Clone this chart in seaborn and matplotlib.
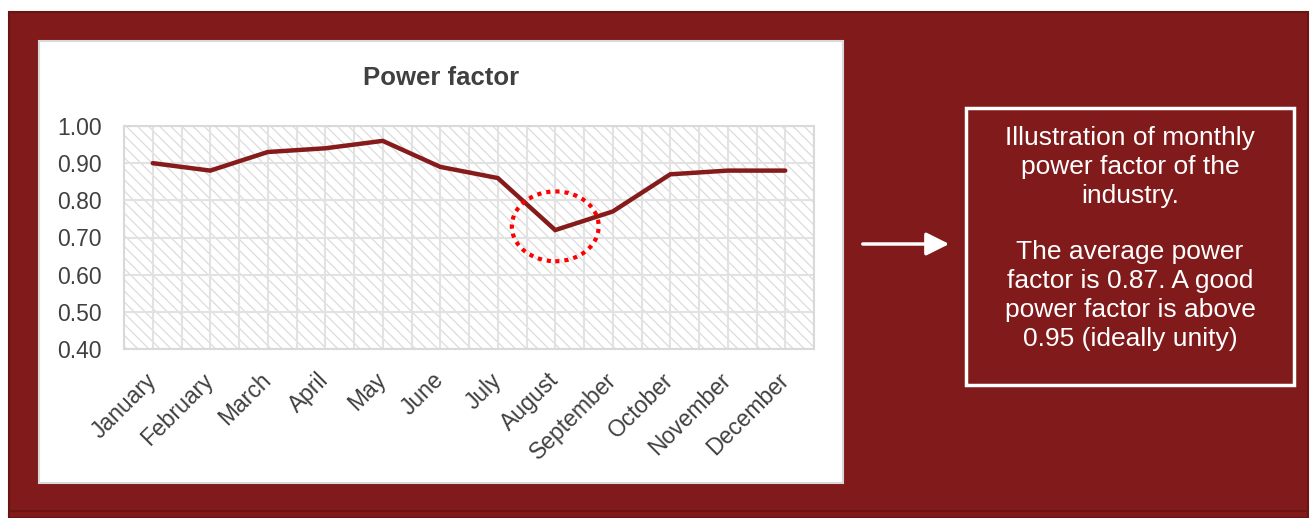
import matplotlib
matplotlib.use("Agg")
import matplotlib.pyplot as plt
from matplotlib.patches import Rectangle, Ellipse
import seaborn as sns
import pandas as pd

months = ["January", "February", "March", "April", "May", "June", "July",
          "August", "September", "October", "November", "December"]
power_factor = [0.90, 0.88, 0.93, 0.94, 0.96, 0.89, 0.86, 0.72, 0.77, 0.87, 0.88, 0.88]
y_ticks = [0.40, 0.50, 0.60, 0.70, 0.80, 0.90, 1.00]
title = "Power factor"
note_1 = "Illustration of monthly\npower factor of the\nindustry."
note_2 = "The average power\nfactor is 0.87. A good\npower factor is above\n0.95 (ideally unity)"
highlight_month = "August"

RED = "#811a1a"
LINE = "#861b1b"
TXT = "#404040"
GRID = "#e2e2e2"

sns.set_theme(style="white")
plt.rcParams["font.family"] = ["Liberation Sans", "DejaVu Sans"]
plt.rcParams["hatch.linewidth"] = 0.9

W, H = 1314, 518
fig = plt.figure(figsize=(W / 100, H / 100), dpi=100)
fig.patch.set_facecolor("white")

def fx(px):
    return px / W

def fy(py):
    return 1 - py / H

# red panel
fig.patches.append(Rectangle((fx(9), 0), fx(1308) - fx(9), fy(12), transform=fig.transFigure,
                             facecolor=RED, edgecolor="#6a1414", linewidth=1.5, zorder=0))
fig.lines.append(plt.Line2D([fx(9), fx(1308)], [fy(511), fy(511)], transform=fig.transFigure,
                            color="#6a1414", linewidth=1.2, zorder=1))
# white chart box
fig.patches.append(Rectangle((fx(39), fy(483)), fx(843) - fx(39), fy(41) - fy(483),
                             transform=fig.transFigure, facecolor="white",
                             edgecolor="#d9d9d9", linewidth=1.5, zorder=1))

ax = fig.add_axes([fx(124), fy(349), fx(814) - fx(124), fy(126) - fy(349)], zorder=2)
ax.set_facecolor("white")

df = pd.DataFrame({"month": months, "pf": power_factor})
df["pos"] = range(len(months))

# hatched background
hatch = Rectangle((0, 0), 1, 1, transform=ax.transAxes, facecolor="none",
                  edgecolor="#dcdcdc", linewidth=0, hatch="\\\\\\", zorder=0)
ax.add_patch(hatch)

sns.lineplot(data=df, x="pos", y="pf", ax=ax, color=LINE, linewidth=3.2,
             solid_joinstyle="miter", zorder=5)

n = len(months)
ax.set_xlim(-0.5, n - 0.5)
ax.set_ylim(y_ticks[0], y_ticks[-1])
ax.set_yticks(y_ticks)
ax.set_yticklabels([f"{v:.2f}" for v in y_ticks])
ax.set_xticks(range(n))
ax.set_xticklabels(months)
ax.set_xlabel("")
ax.set_ylabel("")

# grid: horizontal at ticks, vertical at every half category
for v in y_ticks:
    ax.axhline(v, color=GRID, linewidth=1.5, zorder=1)
for k in range(2 * n + 1):
    ax.axvline(-0.5 + k * 0.5, color=GRID, linewidth=1.5, zorder=1)

for s in ax.spines.values():
    s.set_visible(True)
    s.set_color("#d9d9d9")
    s.set_linewidth(1.5)

ax.tick_params(axis="y", length=0, pad=16, labelsize=16.5, labelcolor=TXT)
ax.tick_params(axis="x", length=0, pad=20, labelsize=16.5, labelcolor=TXT)
for lab in ax.get_xticklabels():
    lab.set_rotation(45)
    lab.set_ha("right")
    lab.set_va("center")
    lab.set_rotation_mode("anchor")

# highlight ellipse around the dip
hi = months.index(highlight_month)
ell = Ellipse((hi, power_factor[hi] + 0.01), 1.51, 0.188, facecolor="none",
              edgecolor="#ff0000", linewidth=3, linestyle=(0, (1, 1.2)), zorder=6)
ax.add_patch(ell)

fig.text(fx(441), fy(78), title, ha="center", va="center", fontsize=18.5,
         fontweight="bold", color=TXT, zorder=3)

# note box
fig.patches.append(Rectangle((fx(966), fy(385)), fx(1294) - fx(966), fy(108) - fy(385),
                             transform=fig.transFigure, facecolor="none",
                             edgecolor="white", linewidth=2.5, zorder=3))
fig.text(fx(1130), fy(167), note_1, ha="center", va="center", fontsize=19,
         color="white", linespacing=1.25, zorder=4)
fig.text(fx(1130), fy(295.5), note_2, ha="center", va="center", fontsize=19,
         color="white", linespacing=1.25, zorder=4)

fig.add_artist(matplotlib.patches.FancyArrowPatch(
    (fx(860), fy(244)), (fx(952), fy(244)), transform=fig.transFigure,
    arrowstyle="-|>,head_length=14,head_width=7", mutation_scale=1,
    color="white", linewidth=2.5, zorder=4))

fig.savefig("out.png", dpi=100, facecolor=fig.get_facecolor())
